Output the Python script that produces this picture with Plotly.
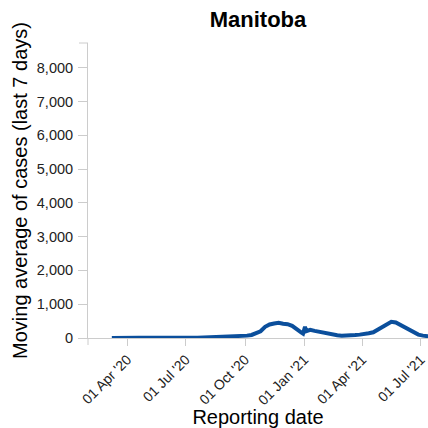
import plotly.graph_objects as go

dates = [
    "2020-03-08", "2020-03-15", "2020-03-22", "2020-03-29", "2020-04-05", "2020-04-12",
    "2020-04-19", "2020-04-26", "2020-05-03", "2020-05-10", "2020-05-17", "2020-05-24",
    "2020-05-31", "2020-06-07", "2020-06-14", "2020-06-21", "2020-06-28", "2020-07-05",
    "2020-07-12", "2020-07-19", "2020-07-26", "2020-08-02", "2020-08-09", "2020-08-16",
    "2020-08-23", "2020-08-30", "2020-09-06", "2020-09-13", "2020-09-20", "2020-09-27",
    "2020-10-04", "2020-10-11", "2020-10-18", "2020-10-25", "2020-11-01", "2020-11-08",
    "2020-11-15", "2020-11-22", "2020-11-29", "2020-12-06", "2020-12-13", "2020-12-20",
    "2020-12-27", "2020-12-30", "2021-01-02", "2021-01-04", "2021-01-10", "2021-01-17",
    "2021-01-24", "2021-01-31", "2021-02-07", "2021-02-14", "2021-02-21", "2021-02-28",
    "2021-03-07", "2021-03-14", "2021-03-21", "2021-03-28", "2021-04-04", "2021-04-11",
    "2021-04-18", "2021-04-25", "2021-05-02", "2021-05-09", "2021-05-16", "2021-05-23",
    "2021-05-30", "2021-06-06", "2021-06-13", "2021-06-20", "2021-06-27", "2021-07-04",
    "2021-07-11", "2021-07-18",
]
cases_7day_avg = [
    0, 3, 10, 20, 25, 15,
    8, 4, 2, 2, 1, 1,
    1, 1, 1, 1, 2, 2,
    5, 10, 15, 25, 30, 30,
    25, 35, 40, 35, 35, 50,
    70, 90, 130, 200, 330, 400,
    430, 450, 420, 410, 360, 280,
    170, 130, 330, 200, 240, 210,
    180, 150, 110, 90, 80, 70,
    70, 80, 90, 100, 110, 140,
    170, 250, 320, 420, 480, 460,
    390, 300, 220, 150, 100, 70,
    50, 40,
]
tick_dates = ["2020-04-01", "2020-07-01", "2020-10-01", "2021-01-01", "2021-04-01", "2021-07-01"]
tick_labels = ["01 Apr '20", "01 Jul '20", "01 Oct '20", "01 Jan '21", "01 Apr '21", "01 Jul '21"]
y_ticks = [0, 1000, 2000, 3000, 4000, 5000, 6000, 7000, 8000]

fig = go.Figure()
fig.add_trace(go.Scatter(
    x=dates, y=cases_7day_avg, mode="lines",
    line=dict(color="#0b4f9c", width=4),
    hoverinfo="skip", showlegend=False,
))

axis_gray = "#cccccc"
fig.update_layout(
    width=428, height=428,
    margin=dict(l=88, r=0, t=43, b=90),
    paper_bgcolor="white", plot_bgcolor="white",
    font=dict(family="Liberation Sans, Arial, sans-serif", color="#222"),
    title=dict(text="<b>Manitoba</b>", x=0.5, xref="paper", xanchor="center",
               y=1 - 19 / 428, yanchor="middle", font=dict(size=22, color="#000")),
    xaxis=dict(
        range=["2020-01-31", "2021-07-12"],
        tickvals=tick_dates, ticktext=tick_labels, tickangle=-45,
        tickfont=dict(size=14, color="#222"),
        ticklabeloverflow="allow",
        showgrid=False, zeroline=False,
        showline=True, linecolor=axis_gray, linewidth=1,
        ticks="outside", ticklen=7, tickcolor=axis_gray,
        title=dict(text="Reporting date", font=dict(size=20, color="#000"), standoff=4),
        automargin=False,
    ),
    yaxis=dict(
        range=[0, 8730],
        tickvals=y_ticks, tickformat=",d",
        tickfont=dict(size=14.5, color="#222"),
        ticklabelstandoff=2,
        showgrid=False, zeroline=False,
        showline=True, linecolor=axis_gray, linewidth=1,
        ticks="outside", ticklen=9, tickcolor=axis_gray,
        title=dict(text="Moving average of cases (last 7 days)", font=dict(size=20, color="#000"), standoff=3),
        automargin=False,
    ),
)
# small domain caps at axis ends
fig.add_shape(type="line", xref="paper", yref="paper", x0=-9 / 340, x1=0, y0=1, y1=1,
              line=dict(color=axis_gray, width=1))
fig.add_shape(type="line", xref="paper", yref="paper", x0=0, x1=0, y0=0, y1=-7 / 295,
              line=dict(color=axis_gray, width=1))

fig.write_html(
    "out.html",
    config={"displayModeBar": False},
    post_script="document.body.style.margin='0';document.body.style.overflow='hidden';",
)
